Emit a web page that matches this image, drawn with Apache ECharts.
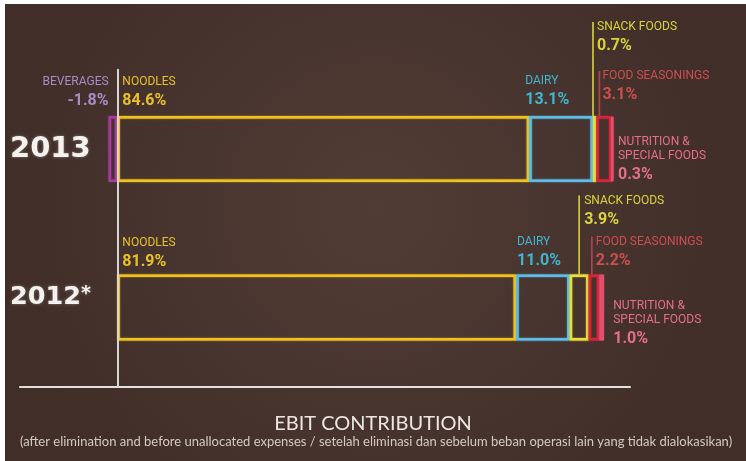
<!DOCTYPE html>
<html>
<head>
<meta charset="utf-8">
<script src="https://cdn.jsdelivr.net/npm/echarts@6/dist/echarts.min.js"></script>
<style>
  html, body { margin: 0; padding: 0; background: #ffffff; }
  #chart { width: 746px; height: 461px; }
</style>
</head>
<body>
<div id="chart"></div>
<script>
// ---- data ----
const years = ['2012*', '2013'];
const segmentNames = ['BEVERAGES', 'NOODLES', 'DAIRY', 'SNACK FOODS', 'FOOD SEASONINGS', 'NUTRITION &\nSPECIAL FOODS'];
const beverages = [null, -1.8];
const noodles = [81.9, 84.6];
const dairy = [11.0, 13.1];
const snackFoods = [3.9, 0.7];
const foodSeasonings = [2.2, 3.1];
const nutrition = [1.0, 0.3];
const titleText = 'EBIT CONTRIBUTION';
const subtitleText = '(after elimination and before unallocated expenses / setelah eliminasi dan sebelum beban operasi lain yang tidak dialokasikan)';

// ---- styling ----
const seriesValues = [beverages, noodles, dairy, snackFoods, foodSeasonings, nutrition];
const boxColors = ['#a8399f', '#f1c11f', '#5cbde6', '#e6df3a', '#d8243a', '#e44f70'];
const textColors = ['#a98bc6', '#e8c02c', '#3fb6d0', '#d8d43c', '#cc4f4f', '#e56f8c'];
const leaderColors = [null, null, null, '#d9d33c', '#b9434c', null];
const BAR_WIDTH = 66;

// Annotation placement, per year index then per segment:
// f = anchor position along the segment (0 start, 1 end), dx = text offset from anchor,
// top = first text line relative to the bar's top edge, leader = line from text down to bar.
const labelLayout = {
  1: [
    { f: 0, dx: 0, top: -38, align: 'right' },
    { f: 0, dx: 5, top: -38 },
    { f: 0, dx: -4, top: -39 },
    { f: 0, dx: 4, top: -93, leader: true },
    { f: 0.2, dx: 3, top: -44, leader: true },
    { f: 1, dx: 5, top: 22 }
  ],
  0: [
    null,
    { f: 0, dx: 5, top: -36 },
    { f: 0, dx: 1, top: -37 },
    { f: 0.5, dx: 5, top: -78, leader: true },
    { f: 0.3, dx: 4, top: -37, leader: true },
    { f: 1, dx: 9, top: 27 }
  ]
};

// segment extents along the value axis: [start, yearIndex, end, segmentIndex, value]
function segmentExtents() {
  const items = [];
  years.forEach((y, yi) => {
    let pos = 0;
    seriesValues.forEach((vals, si) => {
      const v = vals[yi];
      if (v == null) return;
      if (v < 0) {
        items.push([v, yi, 0, si, v]);
      } else {
        items.push([pos, yi, pos + v, si, v]);
        pos += v;
      }
    });
  });
  return items;
}

const chart = echarts.init(document.getElementById('chart'), null, { renderer: 'canvas' });

const barSeries = seriesValues.map((vals, si) => ({
  name: segmentNames[si],
  type: 'bar',
  stack: 'ebit',
  barWidth: BAR_WIDTH,
  silent: true,
  data: vals.map(v => (v == null ? '-' : v)),
  itemStyle: {
    color: 'rgba(0,0,0,0)',
    borderColor: boxColors[si],
    borderWidth: 2.5,
    shadowBlur: 1.5,
    shadowColor: boxColors[si]
  },
  z: 2
}));

const annotationSeries = {
  type: 'custom',
  silent: true,
  clip: false,
  z: 4,
  encode: { x: [0, 2], y: 1 },
  data: segmentExtents(),
  renderItem(params, api) {
    const start = api.value(0), yi = api.value(1), end = api.value(2), si = api.value(3), v = api.value(4);
    const layout = labelLayout[yi] && labelLayout[yi][si];
    if (!layout) return null;
    const p0 = api.coord([start, yi]);
    const p1 = api.coord([end, yi]);
    const barTop = p0[1] - BAR_WIDTH / 2;
    const ax = p0[0] + (p1[0] - p0[0]) * layout.f;
    const tx = ax + layout.dx;
    const align = layout.align || 'left';
    const nameLines = segmentNames[si].split('\n');
    const children = [];
    const firstTop = barTop + layout.top;
    if (layout.leader) {
      children.push({
        type: 'line',
        shape: { x1: ax, y1: firstTop - 1, x2: ax, y2: barTop },
        style: { stroke: leaderColors[si], lineWidth: 1.6 }
      });
    }
    nameLines.forEach((line, i) => {
      children.push({
        type: 'text',
        style: {
          text: line, x: tx, y: firstTop + i * 14 - 2,
          fill: textColors[si], font: '12px Roboto',
          align, verticalAlign: 'top'
        }
      });
    });
    const valueTop = firstTop + (nameLines.length - 1) * 14 + 17;
    children.push({
      type: 'text',
      style: {
        text: v.toFixed(1) + '%', x: tx, y: valueTop - 2,
        fill: textColors[si], font: 'bold 16px Roboto',
        align, verticalAlign: 'top'
      }
    });
    return { type: 'group', children };
  }
};

chart.setOption({
  backgroundColor: '#ffffff',
  animation: false,
  graphic: [
    {
      type: 'rect', z: -100, silent: true,
      shape: { x: 5, y: 4, width: 741, height: 457 },
      style: {
        fill: {
          type: 'radial', x: 0.5, y: 0.45, r: 0.8,
          colorStops: [{ offset: 0, color: '#513c35' }, { offset: 1, color: '#412e29' }]
        }
      }
    },
    {
      type: 'text', z: 10, silent: true,
      style: {
        text: titleText, x: 373, y: 424, align: 'center', verticalAlign: 'middle',
        font: '20px Lato', fill: '#ebe6e1'
      }
    },
    {
      type: 'text', z: 10, silent: true,
      style: {
        text: subtitleText, x: 376, y: 442, align: 'center', verticalAlign: 'middle',
        font: '13px Lato', fill: '#d2cac4'
      }
    }
  ],
  grid: {
    left: 20, right: 116, top: 69.75, bottom: 74.25,
    containLabel: false, outerBoundsMode: 'none'
  },
  xAxis: {
    type: 'value', min: -20, max: 105.3,
    splitLine: { show: false },
    axisLabel: { show: false },
    axisTick: { show: false },
    axisLine: { show: true, lineStyle: { color: '#e4e0dc', width: 2 } }
  },
  yAxis: {
    type: 'category',
    data: years,
    z: 3,
    axisTick: { show: false },
    axisLine: { show: true, onZero: true, lineStyle: { color: '#d9d5d1', width: 2 } },
    axisLabel: {
      show: true,
      align: 'left',
      margin: 10,
      formatter: (v) => v.endsWith('*')
        ? `{small|${v.slice(0, -1)}}{star|*}`
        : `{big|${v}}`,
      rich: {
        big: {
          fontFamily: 'DejaVu Sans', fontWeight: 'bold', fontSize: 29, color: '#f4f2ef',
          textShadowColor: 'rgba(255,255,255,0.35)', textShadowBlur: 3
        },
        small: {
          fontFamily: 'DejaVu Sans', fontWeight: 'bold', fontSize: 25.5, color: '#f4f2ef',
          padding: [0, 0, 20, 0],
          textShadowColor: 'rgba(255,255,255,0.35)', textShadowBlur: 3
        },
        star: {
          fontFamily: 'DejaVu Sans', fontWeight: 'bold', fontSize: 19, color: '#f4f2ef',
          padding: [0, 0, 26, 0],
          textShadowColor: 'rgba(255,255,255,0.35)', textShadowBlur: 3
        }
      }
    }
  },
  series: [...barSeries, annotationSeries]
});
</script>
</body>
</html>
